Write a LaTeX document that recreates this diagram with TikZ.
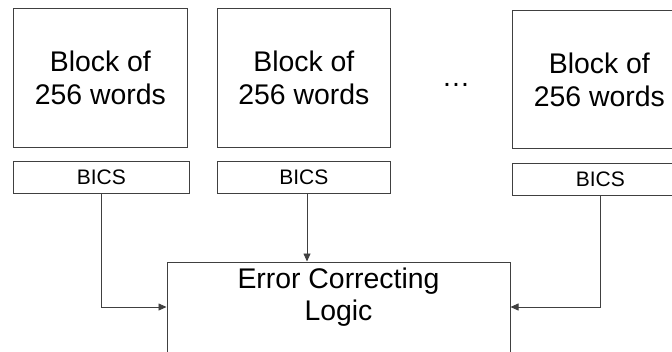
\documentclass[tikz,border=0pt]{standalone}
\usepackage{fontspec}
\setmainfont{Liberation Sans}
\usetikzlibrary{arrows.meta}

\tikzset{
  line/.style={draw=black!75, line width=0.8pt},
  blockbox/.style={line, anchor=north west, minimum width=174pt, minimum height=139pt,
    inner sep=0pt, align=center, font=\fontsize{28.4}{33}\selectfont},
  bicsbox/.style={line, anchor=north west, minimum width=176pt, minimum height=32pt,
    inner sep=0pt, font=\fontsize{21}{24}\selectfont},
  logicbox/.style={line, anchor=north west, minimum width=343pt, minimum height=120pt, inner sep=0pt},
  bigtext/.style={align=center, font=\fontsize{28.4}{31.5}\selectfont, inner sep=0pt},
  arr/.style={line, -{Triangle[length=8pt,width=7pt]}, shorten >=0.5pt},
}

\begin{document}
\begin{tikzpicture}[x=1pt, y=-1pt]
  \useasboundingbox (0,0) rectangle (672,351);
  \clip (0,0) rectangle (672,351);

  % memory blocks
  \node[blockbox] (blk1) at (13,8) {Block of\\256 words};
  \node[blockbox, minimum width=173pt] (blk2) at (217,8) {Block of\\256 words};
  \node[blockbox, minimum height=138pt] (blk3) at (512,10) {Block of\\256 words};

  % ellipsis between the second and last block
  \node[bigtext, anchor=base] (dots) at (456,86) {\dots};

  % per-block check sums
  \node[bicsbox] (bics1) at (13,161) {BICS};
  \node[bicsbox, minimum width=173pt] (bics2) at (217,161) {BICS};
  \node[bicsbox] (bics3) at (512,163) {BICS};

  % correcting logic
  \node[logicbox] (logic) at (167,262) {};
  \node[bigtext, anchor=north] (logictxt) at (338.5,268) {Error Correcting\\Logic};

  \coordinate (inL) at (167,307);
  \coordinate (inR) at (510,307);
  \coordinate (inT) at (307,262);

  % connectors
  \draw[arr] (bics1.south) |- (inL);
  \draw[arr] (bics2.south -| inT) -- (inT);
  \draw[arr] (bics3.south) |- (inR);
\end{tikzpicture}
\end{document}
